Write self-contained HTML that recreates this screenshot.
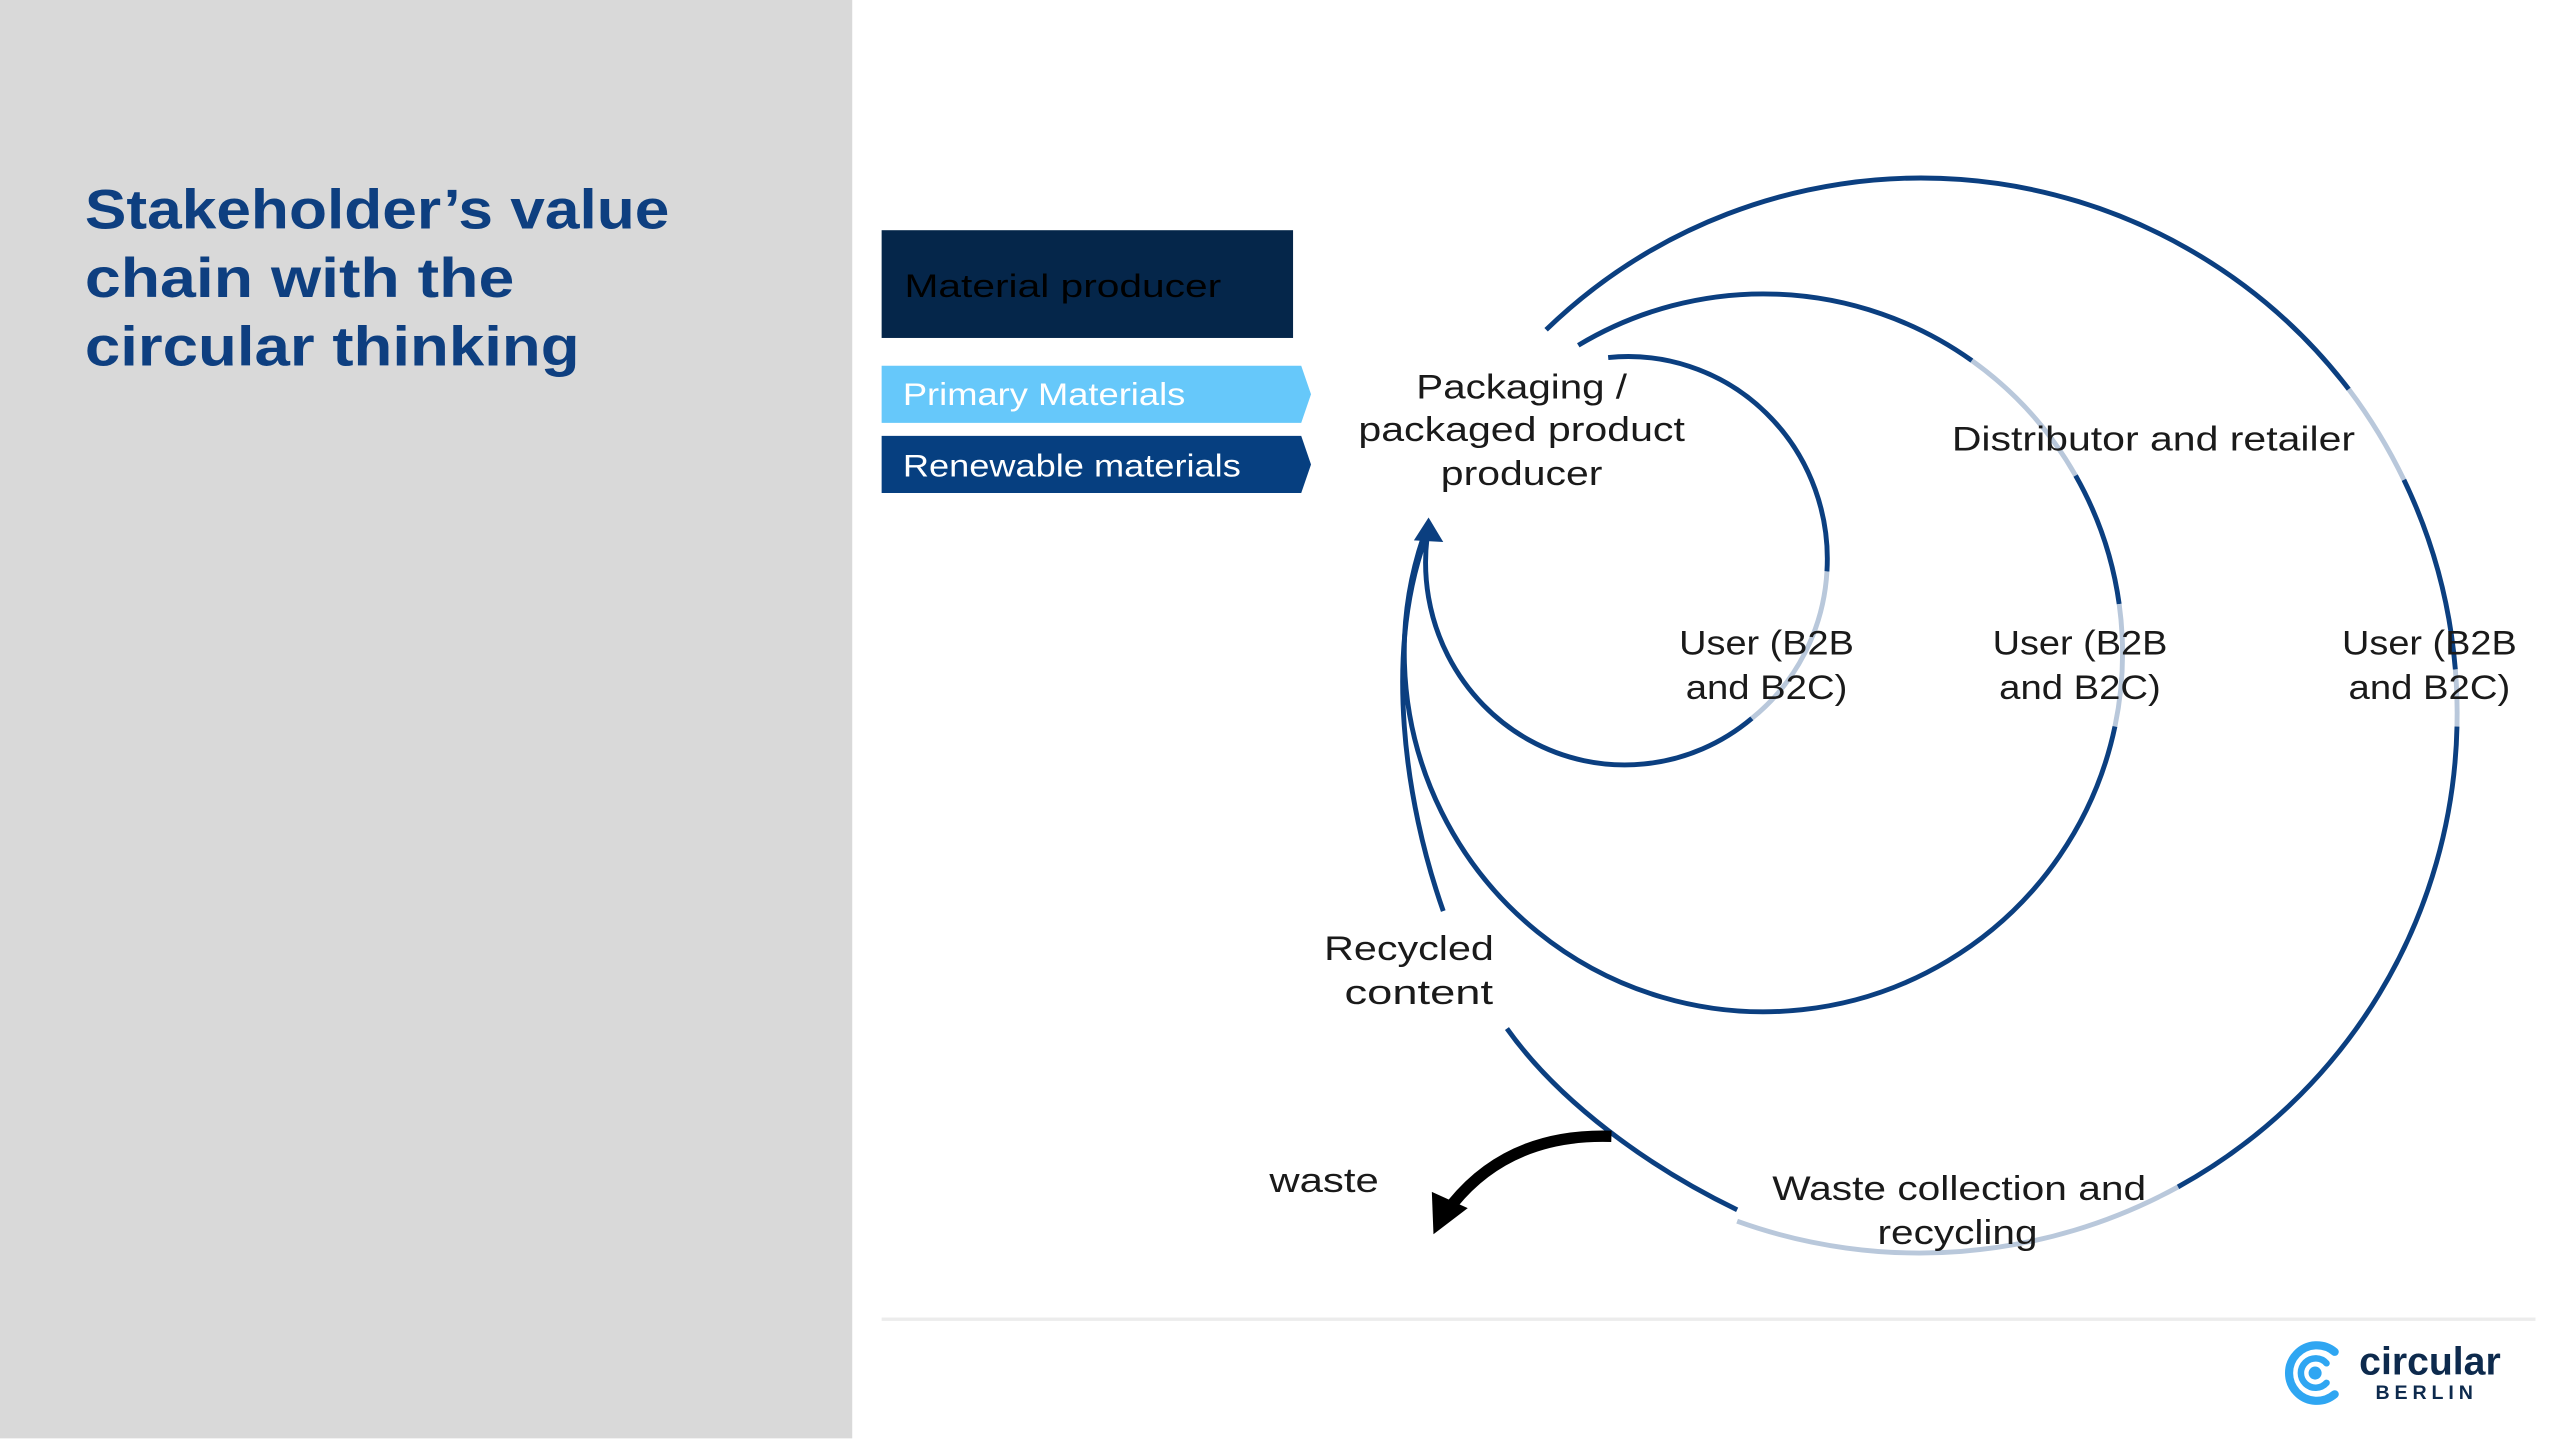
<!DOCTYPE html>
<html><head><meta charset="utf-8"><style>
html,body{margin:0;padding:0;background:#fff}
svg{display:block}
text{font-family:"Liberation Sans",sans-serif}
</style></head><body>
<svg width="2560" height="1440" viewBox="0 0 1568 882" preserveAspectRatio="none" xmlns="http://www.w3.org/2000/svg">
<rect x="0" y="0" width="1568" height="882" fill="#fff"/>
<rect x="0" y="0" width="522" height="881" fill="#d9d9d9"/>
<g font-weight="bold" font-size="34" fill="#0e3f80" lengthAdjust="spacingAndGlyphs">
<text x="52" y="140" textLength="358" lengthAdjust="spacingAndGlyphs">Stakeholder’s value</text>
<text x="52" y="182" textLength="263" lengthAdjust="spacingAndGlyphs">chain with the</text>
<text x="52" y="224" textLength="303" lengthAdjust="spacingAndGlyphs">circular thinking</text>
</g>
<rect x="540" y="141" width="252" height="66" fill="#05264a"/>
<text x="554" y="182" font-size="20" fill="#000" textLength="194" lengthAdjust="spacingAndGlyphs">Material producer</text>
<polygon points="540,224 797,224 803,241.5 797,259 540,259" fill="#66c8fa"/>
<text x="553" y="248" font-size="19" fill="#fff" textLength="173" lengthAdjust="spacingAndGlyphs">Primary Materials</text>
<polygon points="540,267 797,267 803,284.5 797,302 540,302" fill="#063f80"/>
<text x="553" y="292" font-size="19" fill="#fff" textLength="207" lengthAdjust="spacingAndGlyphs">Renewable materials</text>

<g fill="none" stroke-width="3">
<path d="M985,219 A122,124 0 0 1 1119,350" stroke="#0b3f80"/>
<path d="M1119,350 A122,124 0 0 1 1073,440" stroke="#b9c8db"/>
<path d="M1073,440 A122,124 0 0 1 874,330" stroke="#0b3f80"/>
<path d="M966.7,211.5 A220,220 0 0 1 1207.8,220.9" stroke="#0b3f80"/>
<path d="M1207.8,220.9 A220,220 0 0 1 1271.3,291.3" stroke="#b9c8db"/>
<path d="M1271.3,291.3 A220,220 0 0 1 1298,370" stroke="#0b3f80"/>
<path d="M1298,370 A220,220 0 0 1 1295.4,445" stroke="#b9c8db"/>
<path d="M1295.4,445 A220,220 0 1 1 874.6,321.2" stroke="#0b3f80"/>
<path d="M947,202 A330,330 0 0 1 1438.6,238.4" stroke="#0b3f80"/>
<path d="M1438.6,238.4 A330,330 0 0 1 1472.4,293.9" stroke="#b9c8db"/>
<path d="M1472.4,293.9 A330,330 0 0 1 1503.9,410" stroke="#0b3f80"/>
<path d="M1503.9,410 A330,330 0 0 1 1504.9,445" stroke="#b9c8db"/>
<path d="M1504.9,445 A330,330 0 0 1 1334,727" stroke="#0b3f80"/>
<path d="M1334,727 A330,330 0 0 1 1064,748" stroke="#b9c8db"/>
<path d="M1064,741 C1010,715 955,675 923,630" stroke="#0b3f80"/>
<path d="M884,558 C860,490 848,400 873,330" stroke="#0b3f80"/>
</g>
<polygon points="875,317 866,331 884,332" fill="#0b3f80"/>

<path d="M987,696 Q925,694 890,737" fill="none" stroke="#000" stroke-width="7"/>
<polygon points="878,756 877,730 899,740" fill="#000"/>

<g font-size="21" fill="#1a1a1a" text-anchor="middle">
<text x="932" y="244" textLength="129" lengthAdjust="spacingAndGlyphs">Packaging /</text>
<text x="932" y="270" textLength="200" lengthAdjust="spacingAndGlyphs">packaged product</text>
<text x="932" y="297" textLength="99" lengthAdjust="spacingAndGlyphs">producer</text>
<text x="1319" y="276" textLength="247" lengthAdjust="spacingAndGlyphs">Distributor and retailer</text>
<text x="1082" y="401" textLength="107" lengthAdjust="spacingAndGlyphs">User (B2B</text>
<text x="1082" y="428" textLength="99" lengthAdjust="spacingAndGlyphs">and B2C)</text>
<text x="1274" y="401" textLength="107" lengthAdjust="spacingAndGlyphs">User (B2B</text>
<text x="1274" y="428" textLength="99" lengthAdjust="spacingAndGlyphs">and B2C)</text>
<text x="1488" y="401" textLength="107" lengthAdjust="spacingAndGlyphs">User (B2B</text>
<text x="1488" y="428" textLength="99" lengthAdjust="spacingAndGlyphs">and B2C)</text>
<text x="863" y="588" textLength="104" lengthAdjust="spacingAndGlyphs">Recycled</text>
<text x="869" y="615" textLength="91" lengthAdjust="spacingAndGlyphs">content</text>
<text x="811" y="730" textLength="67" lengthAdjust="spacingAndGlyphs">waste</text>
<text x="1200" y="735" textLength="229" lengthAdjust="spacingAndGlyphs">Waste collection and</text>
<text x="1199" y="762" textLength="98" lengthAdjust="spacingAndGlyphs">recycling</text>
</g>

<line x1="540" y1="808" x2="1553" y2="808" stroke="#ececec" stroke-width="2"/>
<g fill="none" stroke-linecap="round">
<path d="M1430,828 A17,17 0 1 0 1430,854" stroke="#2fa6f2" stroke-width="5"/>
<path d="M1425,835 A9,9 0 1 0 1425,847" stroke="#2fa6f2" stroke-width="4"/>
</g>
<circle cx="1418" cy="841" r="4" fill="#2fa6f2"/>
<text x="1445" y="842" font-size="24" font-weight="bold" fill="#0d2a4d">circular</text>
<text x="1455" y="857" font-size="12" font-weight="bold" fill="#0d2a4d" letter-spacing="3">BERLIN</text>
</svg>
</body></html>
